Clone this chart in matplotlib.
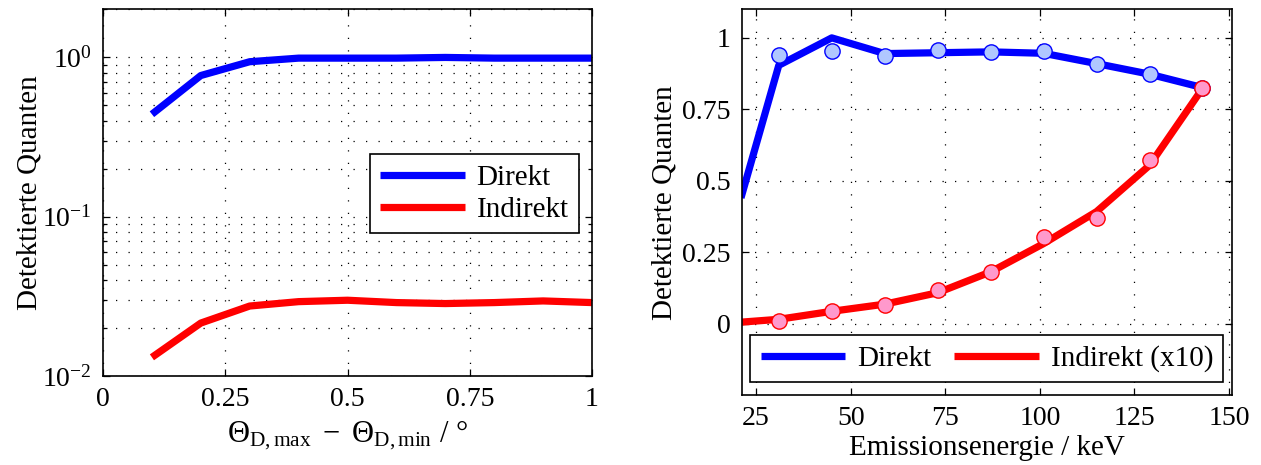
import matplotlib
matplotlib.use("Agg")
import matplotlib.pyplot as plt
from matplotlib.ticker import FixedLocator, LogLocator, NullFormatter

# ---------------- data ----------------
theta = [0.1, 0.2, 0.3, 0.4, 0.5, 0.6, 0.7, 0.8, 0.9, 1.0]
direkt_theta = [0.44, 0.77, 0.94, 0.99, 0.99, 0.99, 1.0, 0.99, 0.99, 0.99]
indirekt_theta = [0.0131, 0.0215, 0.0275, 0.0293, 0.0299, 0.0289, 0.0285, 0.0289, 0.0296, 0.0289]

energy_line = [21, 31, 45, 59, 73, 87, 101, 115, 129, 143]
direkt_line = [0.44, 0.904, 1.0, 0.945, 0.948, 0.951, 0.946, 0.910, 0.873, 0.826]
indirekt_line = [0.005, 0.015, 0.043, 0.068, 0.108, 0.181, 0.280, 0.392, 0.554, 0.823]

energy_pts = [31, 45, 59, 73, 87, 101, 115, 129, 143]
direkt_pts = [0.939, 0.953, 0.937, 0.959, 0.949, 0.955, 0.907, 0.875, 0.824]
indirekt_pts = [0.010, 0.043, 0.066, 0.117, 0.179, 0.303, 0.371, 0.574, 0.823]

left_xticks = [0, 0.25, 0.5, 0.75, 1]
left_xticklabels = ["0", "0.25", "0.5", "0.75", "1"]
right_xticks = [25, 50, 75, 100, 125, 150]
right_yticks = [0, 0.25, 0.5, 0.75, 1]
right_yticklabels = ["0", "0.25", "0.5", "0.75", "1"]

labels_left = ["Direkt", "Indirekt"]
labels_right = ["Direkt", "Indirekt (x10)"]
ylabel = "Detektierte Quanten"
xlabel_left = r"$\Theta_{\mathrm{D,max}}\ -\ \Theta_{\mathrm{D,min}}$ / °"
xlabel_right = "Emissionsenergie / keV"

# ---------------- style ----------------
plt.rcParams["font.family"] = ["Liberation Serif", "DejaVu Serif"]
plt.rcParams["mathtext.fontset"] = "custom"
plt.rcParams["mathtext.rm"] = "Liberation Serif"
plt.rcParams["mathtext.it"] = "Liberation Serif:italic"
plt.rcParams["mathtext.bf"] = "Liberation Serif:bold"
plt.rcParams["font.size"] = 20

BLUE = (0, 0, 1)
RED = (1, 0, 0)
LIGHTBLUE = (0.69, 0.78, 1.0)
PINK = (1.0, 0.6, 0.8)
LW = 5.2
GRID = dict(color="black", linestyle=(0, (1, 9)), linewidth=0.9)

fig = plt.figure(figsize=(12.61, 4.65), dpi=100)

ax1 = fig.add_axes([0.0817, 0.1914, 0.3878, 0.7882])
ax2 = fig.add_axes([0.5882, 0.1505, 0.3888, 0.8295])

for ax in (ax1, ax2):
    for s in ax.spines.values():
        s.set_linewidth(1.2)
    ax.tick_params(which="both", direction="in", top=True, right=True,
                   width=0.9, labelsize=20, pad=8)
    ax.tick_params(which="major", length=5)
    ax.tick_params(which="minor", length=3)

# ---- left ----
l1, = ax1.plot(theta, direkt_theta, color=BLUE, lw=LW, solid_capstyle="butt", label=labels_left[0])
l2, = ax1.plot(theta, indirekt_theta, color=RED, lw=LW, solid_capstyle="butt", label=labels_left[1])
ax1.set_yscale("log")
ax1.set_ylim(0.01, 2.0)
ax1.set_xlim(0, 1)
ax1.xaxis.set_major_locator(FixedLocator(left_xticks))
ax1.set_xticklabels(left_xticklabels)
ax1.yaxis.set_major_locator(LogLocator(base=10, numticks=10))
ax1.yaxis.set_minor_locator(LogLocator(base=10, subs=range(2, 10), numticks=20))
ax1.yaxis.set_minor_formatter(NullFormatter())
ax1.grid(True, which="major", axis="both", **GRID)
ax1.grid(True, which="minor", axis="y", **GRID)
ax1.set_axisbelow(True)
ax1.set_ylabel(ylabel, fontsize=21, labelpad=0)
ax1.set_xlabel(xlabel_left, fontsize=22, labelpad=5)
leg1 = ax1.legend(handles=[l1, l2], loc="upper right", bbox_to_anchor=(0.973, 0.605),
                  borderaxespad=0, fancybox=False, framealpha=1, edgecolor="black",
                  handlelength=2.9, handletextpad=0.4, labelspacing=0.2, borderpad=0.35,
                  fontsize=21)
leg1.get_frame().set_linewidth(1.2)

# ---- right ----
r1, = ax2.plot(energy_line, direkt_line, color=BLUE, lw=LW, solid_capstyle="butt", label=labels_right[0])
r2, = ax2.plot(energy_line, indirekt_line, color=RED, lw=LW, solid_capstyle="butt", label=labels_right[1])
ax2.plot(energy_pts, direkt_pts, linestyle="none", marker="o", markersize=11,
         markerfacecolor=LIGHTBLUE, markeredgecolor=BLUE, markeredgewidth=1.0)
ax2.plot(energy_pts, indirekt_pts, linestyle="none", marker="o", markersize=11,
         markerfacecolor=PINK, markeredgecolor=RED, markeredgewidth=1.0)
ax2.set_xlim(21.2, 150.8)
ax2.set_ylim(-0.25, 1.1)
ax2.xaxis.set_major_locator(FixedLocator(right_xticks))
ax2.yaxis.set_major_locator(FixedLocator(right_yticks))
ax2.set_yticklabels(right_yticklabels)
ax2.grid(True, which="major", **GRID)
ax2.set_axisbelow(True)
ax2.set_ylabel(ylabel, fontsize=21, labelpad=3)
ax2.set_xlabel(xlabel_right, fontsize=21, labelpad=3)
leg2 = ax2.legend(handles=[r1, r2], loc="lower center", bbox_to_anchor=(0.5, 0.033),
                  ncol=2, borderaxespad=0, fancybox=False, framealpha=1, edgecolor="black",
                  handlelength=2.9, handletextpad=0.4, columnspacing=0.8, borderpad=0.35,
                  fontsize=21)
leg2.get_frame().set_linewidth(1.2)

fig.savefig("out.png", dpi=100)
